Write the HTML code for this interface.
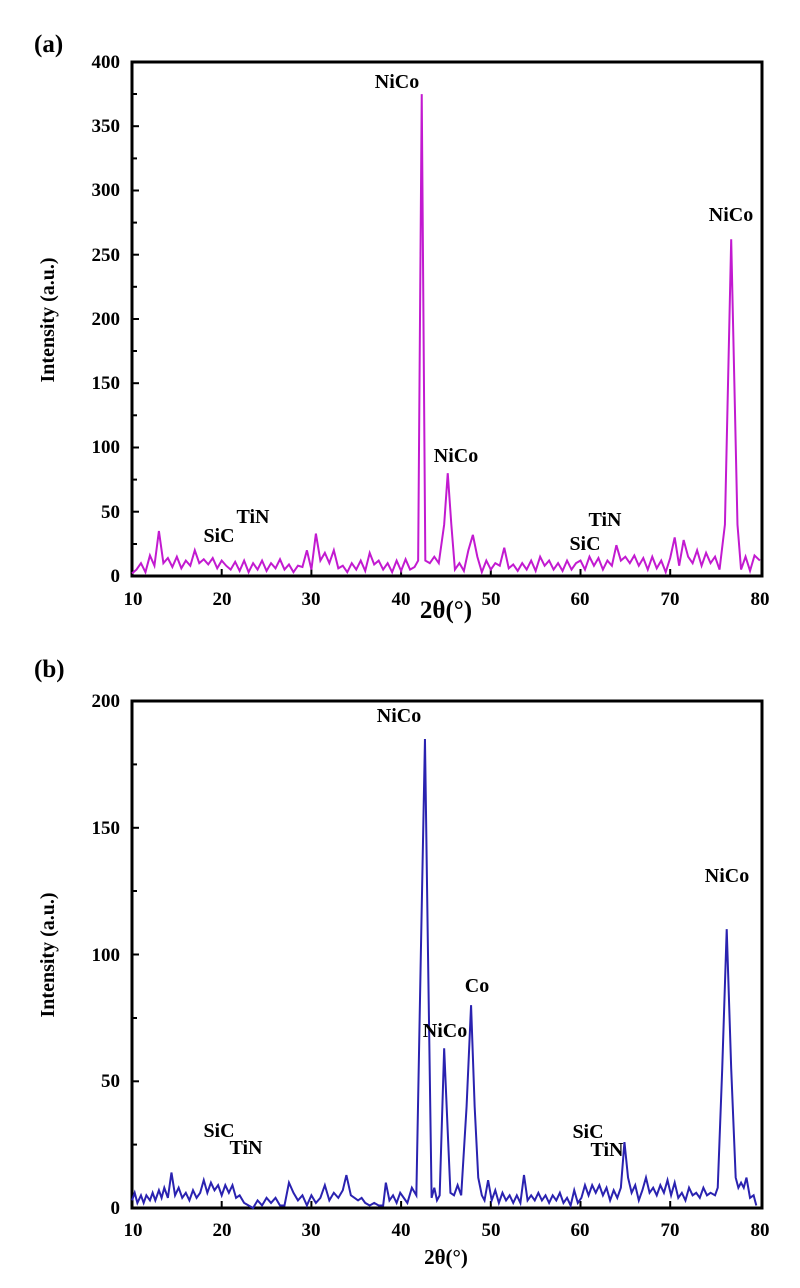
<!DOCTYPE html>
<html><head><meta charset="utf-8"><style>
body{margin:0;background:#fff}
svg{display:block}
text{font-family:"Liberation Serif",serif;font-weight:bold;fill:#000}
</style></head><body>
<svg width="800" height="1288" viewBox="0 0 800 1288" xmlns="http://www.w3.org/2000/svg">
<!-- Panel a -->
<text x="34" y="52" font-size="25">(a)</text>
<rect x="132" y="62" width="630" height="514" fill="none" stroke="#000" stroke-width="3"/>
<g stroke="#000" stroke-width="2">
<line x1="132" y1="511.7" x2="139" y2="511.7"/><line x1="132" y1="447.5" x2="139" y2="447.5"/><line x1="132" y1="383.2" x2="139" y2="383.2"/><line x1="132" y1="319" x2="139" y2="319"/><line x1="132" y1="254.7" x2="139" y2="254.7"/><line x1="132" y1="190.5" x2="139" y2="190.5"/><line x1="132" y1="126.2" x2="139" y2="126.2"/>
<line x1="132" y1="544" x2="137" y2="544"/><line x1="132" y1="479.6" x2="137" y2="479.6"/><line x1="132" y1="415.3" x2="137" y2="415.3"/><line x1="132" y1="351" x2="137" y2="351"/><line x1="132" y1="286.8" x2="137" y2="286.8"/><line x1="132" y1="222.6" x2="137" y2="222.6"/><line x1="132" y1="158.4" x2="137" y2="158.4"/><line x1="132" y1="94" x2="137" y2="94"/>
<line x1="221.7" y1="576" x2="221.7" y2="569"/><line x1="311.4" y1="576" x2="311.4" y2="569"/><line x1="401.1" y1="576" x2="401.1" y2="569"/><line x1="490.8" y1="576" x2="490.8" y2="569"/><line x1="580.5" y1="576" x2="580.5" y2="569"/><line x1="670.2" y1="576" x2="670.2" y2="569"/>
</g>
<g font-size="19" text-anchor="end">
<text x="120" y="582">0</text><text x="120" y="518">50</text><text x="120" y="453">100</text><text x="120" y="389">150</text><text x="120" y="325">200</text><text x="120" y="261">250</text><text x="120" y="196">300</text><text x="120" y="132">350</text><text x="120" y="68">400</text>
</g>
<g font-size="19" text-anchor="middle">
<text x="133" y="605">10</text><text x="222" y="605">20</text><text x="311" y="605">30</text><text x="401" y="605">40</text><text x="491" y="605">50</text><text x="580" y="605">60</text><text x="670" y="605">70</text><text x="760" y="605">80</text>
</g>
<text x="446" y="618" font-size="25" text-anchor="middle">2θ(°)</text>
<text transform="translate(54,320) rotate(-90)" font-size="20" text-anchor="middle">Intensity (a.u.)</text>
<g transform="translate(132,576) scale(8.97,-1.285) translate(-10,0)">
<polyline fill="none" stroke="#c21ad0" stroke-width="2" vector-effect="non-scaling-stroke" points="10,2 10.5,5 11,10 11.5,3 12,16 12.5,8 13,35 13.5,10 14,14 14.5,7 15,15 15.5,6 16,12 16.5,8 17,20 17.5,10 18,13 18.5,9 19,14 19.5,6 20,12 20.5,8 21,5 21.5,11 22,4 22.5,12 23,3 23.5,10 24,5 24.5,12 25,4 25.5,10 26,6 26.5,13 27,5 27.5,9 28,3 28.5,8 29,7 29.5,20 30,5 30.5,33 31,12 31.5,18 32,10 32.5,20 33,6 33.5,8 34,3 34.5,10 35,5 35.5,12 36,4 36.5,18 37,9 37.5,12 38,5 38.5,10 39,3 39.5,12 40,4 40.5,13 41,5 41.5,7 41.9,12 42.3,375 42.7,12 43.2,10 43.7,15 44.2,10 44.8,40 45.2,80 45.6,40 46,5 46.5,10 47,4 47.5,20 48,32 48.5,15 49,3 49.5,12 50,5 50.5,10 51,8 51.5,22 52,6 52.5,9 53,4 53.5,10 54,5 54.5,12 55,4 55.5,15 56,8 56.5,12 57,5 57.5,10 58,4 58.5,12 59,5 59.5,10 60,12 60.5,5 61,15 61.5,8 62,14 62.5,5 63,12 63.5,8 64,24 64.5,12 65,15 65.5,10 66,16 66.5,8 67,14 67.5,5 68,15 68.5,6 69,12 69.5,3 70,14 70.5,30 71,8 71.5,28 72,15 72.5,10 73,20 73.5,8 74,18 74.5,10 75,15 75.5,5 76.1,40 76.8,262 77.5,40 77.9,5 78.4,15 78.9,4 79.4,16 80,12"/>
</g>
<g font-size="20" text-anchor="middle">
<text x="397" y="88">NiCo</text><text x="731" y="221">NiCo</text><text x="456" y="462">NiCo</text>
<text x="219" y="542">SiC</text><text x="253" y="523">TiN</text>
<text x="585" y="550">SiC</text><text x="605" y="526">TiN</text>
</g>
<!-- Panel b -->
<text x="34" y="677" font-size="25">(b)</text>
<rect x="132" y="701" width="630" height="507" fill="none" stroke="#000" stroke-width="3"/>
<g stroke="#000" stroke-width="2">
<line x1="132" y1="1081.3" x2="139" y2="1081.3"/><line x1="132" y1="954.5" x2="139" y2="954.5"/><line x1="132" y1="827.8" x2="139" y2="827.8"/>
<line x1="132" y1="1144.6" x2="137" y2="1144.6"/><line x1="132" y1="1018" x2="137" y2="1018"/><line x1="132" y1="891" x2="137" y2="891"/><line x1="132" y1="764.4" x2="137" y2="764.4"/>
<line x1="221.7" y1="1208" x2="221.7" y2="1201"/><line x1="311.4" y1="1208" x2="311.4" y2="1201"/><line x1="401.1" y1="1208" x2="401.1" y2="1201"/><line x1="490.8" y1="1208" x2="490.8" y2="1201"/><line x1="580.5" y1="1208" x2="580.5" y2="1201"/><line x1="670.2" y1="1208" x2="670.2" y2="1201"/>
</g>
<g font-size="19" text-anchor="end">
<text x="120" y="1214">0</text><text x="120" y="1087">50</text><text x="120" y="961">100</text><text x="120" y="834">150</text><text x="120" y="707">200</text>
</g>
<g font-size="19" text-anchor="middle">
<text x="133" y="1236">10</text><text x="222" y="1236">20</text><text x="311" y="1236">30</text><text x="401" y="1236">40</text><text x="491" y="1236">50</text><text x="580" y="1236">60</text><text x="670" y="1236">70</text><text x="760" y="1236">80</text>
</g>
<text x="446" y="1264" font-size="21" text-anchor="middle">2θ(°)</text>
<text transform="translate(54,955) rotate(-90)" font-size="20" text-anchor="middle">Intensity (a.u.)</text>
<g transform="translate(132,1208) scale(8.97,-2.535) translate(-10,0)">
<polyline fill="none" stroke="#2a22b0" stroke-width="2" vector-effect="non-scaling-stroke" points="10,3 10.3,6 10.6,2 11,5 11.3,2 11.6,5 12,3 12.3,6 12.6,3 13,7 13.3,4 13.6,8 14,4 14.4,14 14.8,5 15.2,8 15.6,4 16,6 16.4,3 16.8,7 17.2,4 17.6,6 18,11 18.4,6 18.8,10 19.2,7 19.6,9 20,5 20.4,9 20.8,6 21.2,9 21.6,4 22,5 22.5,2 23,1 23.5,0 24,3 24.5,1 25,4 25.5,2 26,4 26.5,1 27,1 27.5,10 28,6 28.5,3 29,5 29.5,1 30,5 30.5,2 31,4 31.5,9 32,3 32.5,6 33,4 33.5,7 33.9,13 34.4,5 34.8,4 35.2,3 35.6,4 36,2 36.5,1 37,2 37.5,1 38,1 38.3,10 38.7,3 39.1,5 39.5,2 39.9,6 40.3,4 40.7,2 41.2,8 41.7,5 42.2,100 42.66,185 43.0,100 43.4,4 43.7,8 44.0,3 44.3,5 44.8,63 45.2,30 45.5,6 45.9,5 46.3,9 46.7,5 47.3,40 47.8,80 48.2,40 48.6,12 49.0,5 49.3,3 49.7,11 50.1,3 50.5,7 50.9,2 51.3,6 51.7,3 52.1,5 52.5,2 52.9,5 53.3,2 53.7,13 54.1,3 54.5,5 54.9,3 55.3,6 55.7,3 56.1,5 56.5,2 56.9,5 57.3,3 57.7,6 58.1,2 58.5,4 58.9,1 59.3,7 59.7,2 60.1,4 60.5,9 60.9,5 61.3,9 61.7,6 62.1,9 62.5,5 62.9,8 63.3,3 63.7,7 64.1,4 64.5,8 64.9,26 65.3,12 65.7,6 66.1,9 66.5,3 66.9,7 67.3,12 67.7,6 68.1,8 68.5,5 68.9,9 69.3,6 69.7,11 70.1,5 70.5,10 70.9,4 71.3,6 71.7,3 72.1,8 72.5,5 72.9,6 73.3,4 73.7,8 74.1,5 74.5,6 75.0,5 75.3,8 75.8,55 76.3,110 76.8,55 77.3,12 77.6,8 77.9,10 78.2,8 78.5,12 78.9,4 79.3,5 79.6,1"/>
</g>
<g font-size="20" text-anchor="middle">
<text x="399" y="722">NiCo</text><text x="727" y="882">NiCo</text><text x="477" y="992">Co</text><text x="445" y="1037">NiCo</text>
<text x="219" y="1137">SiC</text><text x="246" y="1154">TiN</text>
<text x="588" y="1138">SiC</text><text x="607" y="1156">TiN</text>
</g>
</svg>
</body></html>
